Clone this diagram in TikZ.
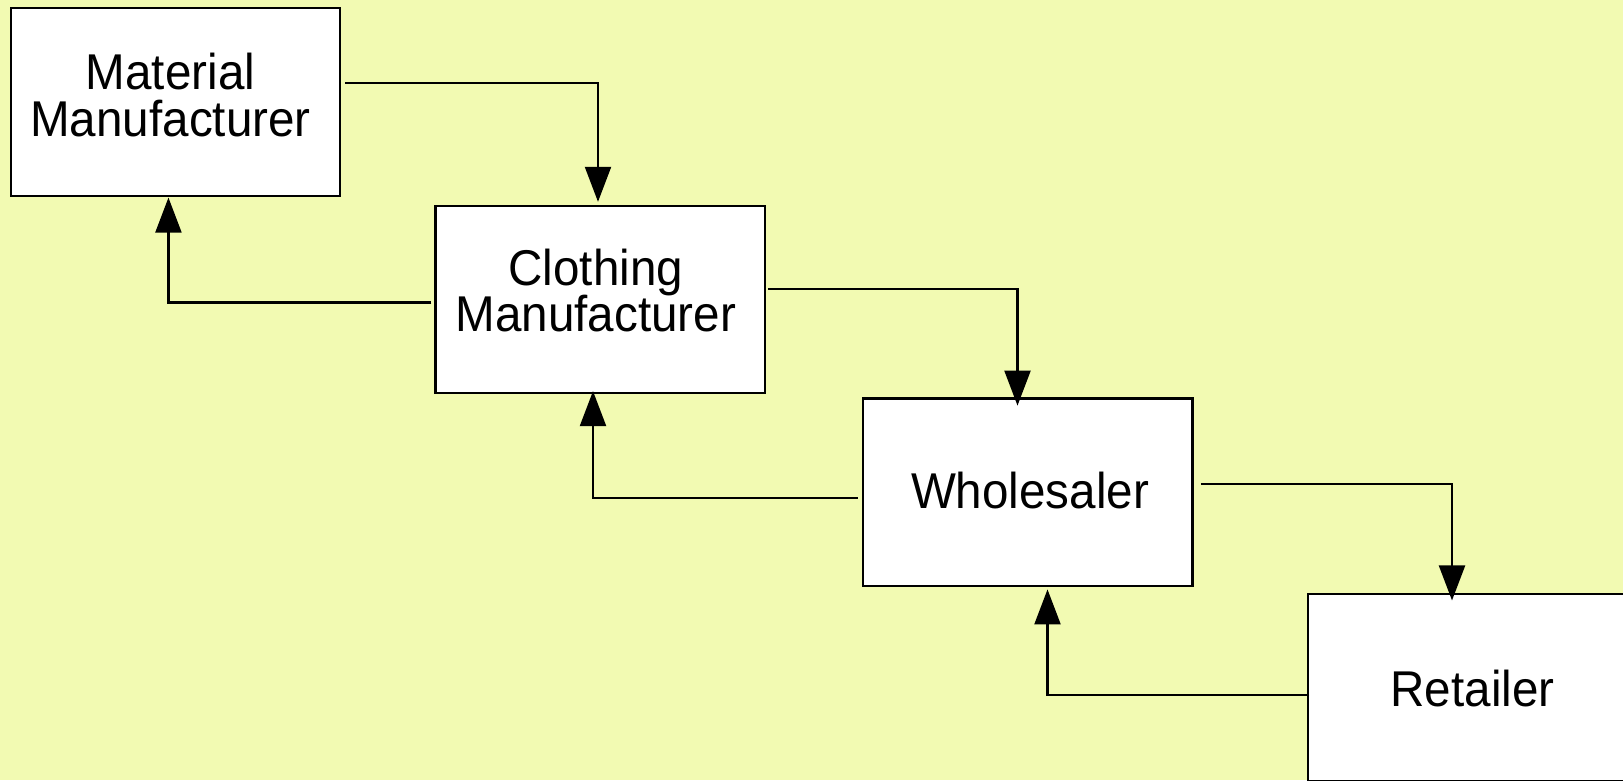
\documentclass[tikz,border=0pt]{standalone}
\usepackage{fontspec}
\setmainfont{Liberation Sans}[FakeStretch=0.946]
\usetikzlibrary{arrows.meta,calc}
\definecolor{paper}{RGB}{242,250,178}
\begin{document}
\begin{tikzpicture}[x=1pt,y=-1pt,
  box/.style={draw=black, fill=white, line width=2.2pt, inner sep=0pt,
              minimum width=329.5pt, minimum height=187.3pt},
  lbl/.style={font=\fontsize{50.3}{46.7}\selectfont, inner sep=0pt, anchor=base},
  flow/.style={line width=2.2pt, -{Triangle[length=35pt,width=26pt]}}]
  % page and background
  \useasboundingbox (0,0) rectangle (1623,780);
  \clip (0,0) rectangle (1623,780);
  \fill[paper] (0,0) rectangle (1623,780);

  % stages of the supply chain
  \node[box] (mm) at (175.45,101.95) {};
  \node[box] (cm) at (600.3,299.65) {};
  \node[box] (wh) at (1027.75,492.15) {};
  \node[box] (rt) at (1472.5,687.5) {};

  % labels
  \node[lbl] (mm1) at (170.5,89.3) {Material};
  \node[lbl] (mm2) at (170.5,136.3) {Manufacturer};
  \node[lbl] (cm1) at (595.8,285) {Clothing};
  \node[lbl] (cm2) at (595.8,331.7) {Manufacturer};
  \node[lbl] (wh1) at (1030,508.5) {Wholesaler};
  \node[lbl] (rt1) at (1472.5,706.7) {Retailer};

  % goods flowing downstream
  \draw[flow] ($(mm.east)+(4.1,-19.2)$) -| ($(cm.north)+(-2.3,-3.1)$);
  \draw[flow] ($(cm.east)+(2.1,-10.65)$) -| ($(wh.north)+(-10.25,8.2)$);
  \draw[flow] ($(wh.east)+(7.2,-7.85)$) -| ($(rt.north)+(-20.5,7.7)$);

  % orders flowing upstream
  \draw[flow] ($(cm.west)+(-3,2.85)$) -| ($(mm.south)+(-7,0.9)$);
  \draw[flow] ($(wh.west)+(-4.2,5.85)$) -| ($(cm.south)+(-7.3,-3.3)$);
  \draw[flow] ($(rt.west)+(2.5,7.8)$) -| ($(wh.south)+(19.75,2.5)$);
\end{tikzpicture}
\end{document}
